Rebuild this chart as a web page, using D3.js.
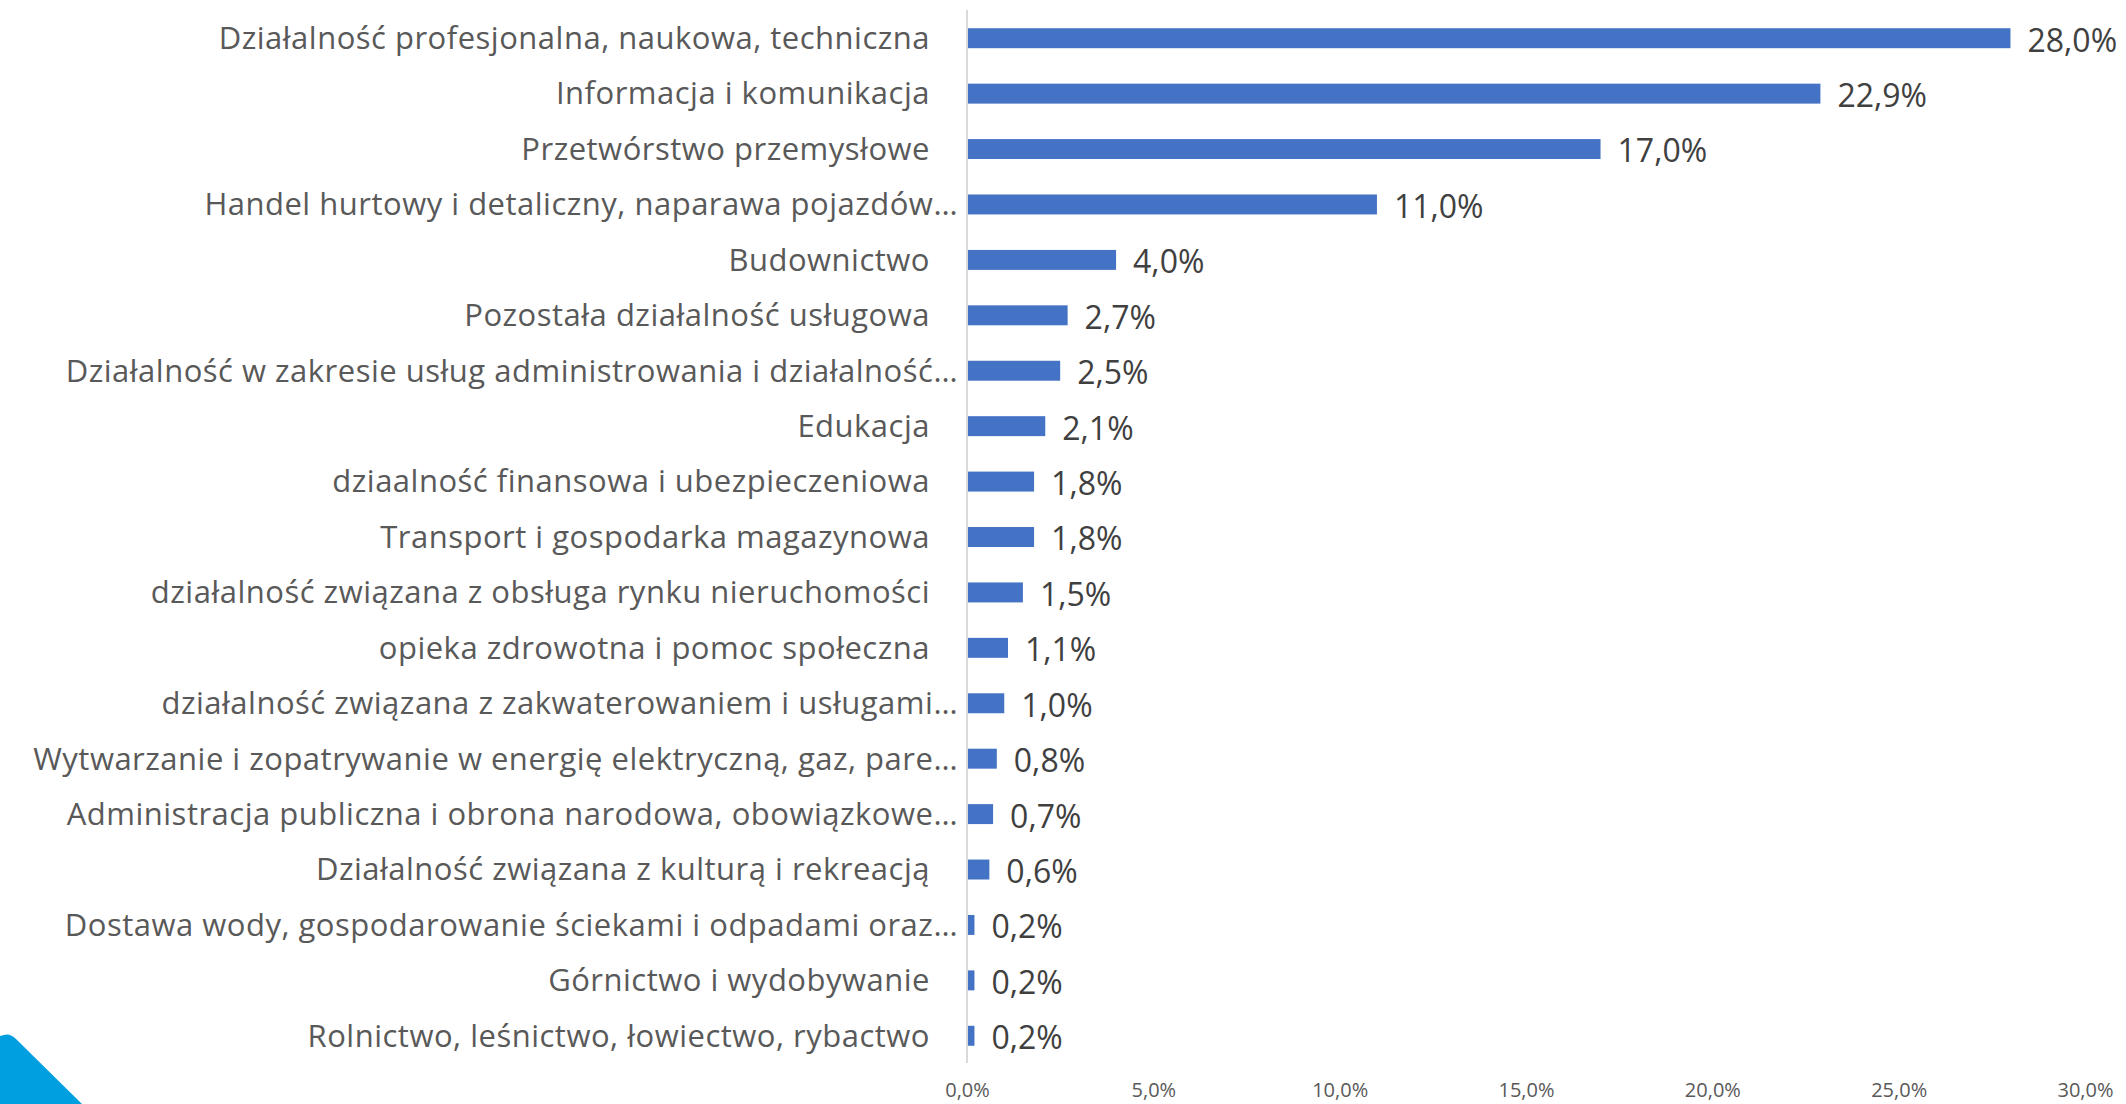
<!DOCTYPE html>
<html>
<head>
<meta charset="utf-8">
<script src="https://cdn.jsdelivr.net/npm/d3@7"></script>
<style>
  html, body { margin: 0; padding: 0; background: #fff; }
  svg { display: block; }
</style>
</head>
<body>
<div id="chart"></div>
<script>
// sectors, from top to bottom
let categories = [
    "Działalność profesjonalna, naukowa, techniczna",
    "Informacja i komunikacja",
    "Przetwórstwo przemysłowe",
    "Handel hurtowy i detaliczny, naparawa pojazdów…",
    "Budownictwo",
    "Pozostała działalność usługowa",
    "Działalność w zakresie usług administrowania i działalność…",
    "Edukacja",
    "dziaalność finansowa i ubezpieczeniowa",
    "Transport i gospodarka magazynowa",
    "działalność związana z obsługa rynku nieruchomości",
    "opieka zdrowotna i pomoc społeczna",
    "działalność związana z zakwaterowaniem i usługami…",
    "Wytwarzanie i zopatrywanie w energię elektryczną, gaz, pare…",
    "Administracja publiczna i obrona narodowa, obowiązkowe…",
    "Działalność związana z kulturą i rekreacją",
    "Dostawa wody, gospodarowanie ściekami i odpadami oraz…",
    "Górnictwo i wydobywanie",
    "Rolnictwo, leśnictwo, łowiectwo, rybactwo"
];

let shares = [28.0, 22.9, 17.0, 11.0, 4.0, 2.7, 2.5, 2.1, 1.8, 1.8, 1.5, 1.1, 1.0, 0.8, 0.7, 0.6, 0.2, 0.2, 0.2];

let ticks = [0, 5, 10, 15, 20, 25, 30];

let width = 2126;
let height = 1104;

let svg = d3.select('#chart')
    .append('svg')
    .attr('width', width)
    .attr('height', height);

let data = categories.map((c, i) => ({ name: c, value: shares[i] }));

let x = d3.scaleLinear([0, 30], [967, 2085]);
let y = d3.scaleBand()
    .domain(categories)
    .range([10.5, 1063.5])
    .paddingInner(0.64)
    .paddingOuter(0.32);

let fmt = v => v.toFixed(1).replace('.', ',') + '%';

// corner decoration
svg.append('path')
    .attr('d', 'M0,1036 L4,1035 Q10,1033 16,1039 L82,1104 L0,1104 Z')
    .attr('fill', '#009fe0');

// bars
svg.append('g')
    .selectAll('rect')
    .data(data)
    .join('rect')
    .attr('x', x(0))
    .attr('y', d => y(d.name))
    .attr('width', d => x(d.value) - x(0))
    .attr('height', y.bandwidth())
    .attr('fill', '#4472c4');

// vertical axis line
svg.append('line')
    .attr('x1', x(0)).attr('x2', x(0))
    .attr('y1', 10).attr('y2', 1063)
    .attr('stroke', '#d9d9d9')
    .attr('stroke-width', 2);

// category labels
svg.append('g')
    .attr('font-family', '"Open Sans", sans-serif')
    .attr('font-size', 31)
    .attr('letter-spacing', 0.5)
    .attr('fill', '#595959')
    .selectAll('text')
    .data(data)
    .join('text')
    .attr('x', d => d.name.endsWith('…') ? 958 : 930)
    .attr('y', d => y(d.name) + y.bandwidth() / 2)
    .attr('dy', '0.35em')
    .attr('text-anchor', 'end')
    .text(d => d.name);

// value labels
svg.append('g')
    .attr('font-family', '"Open Sans", sans-serif')
    .attr('font-size', 32)
    .attr('fill', '#404040')
    .selectAll('text')
    .data(data)
    .join('text')
    .attr('x', d => x(d.value) + 17)
    .attr('y', d => y(d.name) + y.bandwidth() / 2)
    .attr('dy', '0.42em')
    .text(d => fmt(d.value));

// bottom axis labels
let axis = d3.axisBottom(x)
    .tickValues(ticks)
    .tickSize(0)
    .tickPadding(0)
    .tickFormat(d => fmt(d));

svg.append('g')
    .attr('transform', 'translate(0,1083)')
    .call(axis)
    .call(g => g.select('.domain').remove())
    .call(g => g.selectAll('text')
        .attr('font-family', '"Open Sans", sans-serif')
        .attr('font-size', 20)
        .attr('fill', '#595959'));
</script>
</body>
</html>
